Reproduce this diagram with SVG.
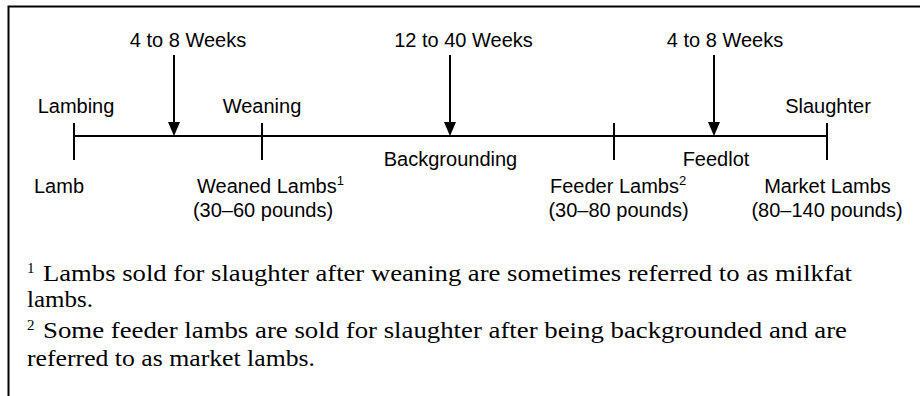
<svg xmlns="http://www.w3.org/2000/svg" width="920" height="396" viewBox="0 0 920 396">
  <style>
    .lbl { font-family: "Liberation Sans", Arial, sans-serif; font-size: 20px; fill: #000; }
    .mid { text-anchor: middle; }
    .sup { font-size: 13px; }
    .note { font-family: "Liberation Serif", "Times New Roman", serif; font-size: 23px; fill: #000; }
    .nsup { font-size: 15px; }
    .ln { stroke: #000; stroke-width: 2; fill: none; }
    .shaft { stroke: #000; stroke-width: 2; }
    .head { fill: #000; }
  </style>
  <rect x="0" y="0" width="920" height="396" fill="#fff"/>
  <path class="ln" d="M8.5,396 V6.5 H920"/>

  <g id="connectors">
    <line class="ln" x1="74" y1="136" x2="827" y2="136"/>
    <line class="ln" x1="74" y1="123" x2="74" y2="160"/>
    <line class="ln" x1="262" y1="123" x2="262" y2="160"/>
    <line class="ln" x1="614" y1="123" x2="614" y2="160"/>
    <line class="ln" x1="827" y1="123" x2="827" y2="160"/>
    <path class="shaft" d="M174,55 V124"/>
    <path class="head" d="M168,122 L180,122 L174,136 Z"/>
    <path class="shaft" d="M450,55 V124"/>
    <path class="head" d="M444,122 L456,122 L450,136 Z"/>
    <path class="shaft" d="M714,55 V124"/>
    <path class="head" d="M708,122 L720,122 L714,136 Z"/>
  </g>

  <g id="period-1"><text class="lbl mid" x="188" y="47">4 to 8 Weeks</text></g>
  <g id="period-2"><text class="lbl mid" x="463.5" y="47">12 to 40 Weeks</text></g>
  <g id="period-3"><text class="lbl mid" x="725" y="47">4 to 8 Weeks</text></g>

  <g id="lambing">
    <text class="lbl mid" x="76" y="113">Lambing</text>
    <text class="lbl mid" x="59" y="193">Lamb</text>
  </g>
  <g id="weaning">
    <text class="lbl mid" x="262" y="113">Weaning</text>
    <text class="lbl" x="197" y="193">Weaned Lambs<tspan class="sup" dy="-8">1</tspan></text>
    <text class="lbl mid" x="263" y="217">(30–60 pounds)</text>
  </g>
  <g id="backgrounding"><text class="lbl mid" x="450.5" y="166">Backgrounding</text></g>
  <g id="feeder">
    <text class="lbl" x="550" y="193">Feeder Lambs<tspan class="sup" dy="-8">2</tspan></text>
    <text class="lbl mid" x="618.5" y="217">(30–80 pounds)</text>
  </g>
  <g id="feedlot"><text class="lbl mid" x="716" y="166">Feedlot</text></g>
  <g id="slaughter">
    <text class="lbl mid" x="828" y="113">Slaughter</text>
    <text class="lbl mid" x="827.5" y="193">Market Lambs</text>
    <text class="lbl mid" x="827" y="217">(80–140 pounds)</text>
  </g>

  <g id="footnotes">
    <text class="note nsup" x="27" y="273">1</text>
    <text class="note" x="43" y="281" textLength="809" lengthAdjust="spacingAndGlyphs">Lambs sold for slaughter after weaning are sometimes referred to as milkfat</text>
    <text class="note" x="27" y="307" textLength="66" lengthAdjust="spacingAndGlyphs">lambs.</text>
    <text class="note nsup" x="27" y="330">2</text>
    <text class="note" x="43" y="338" textLength="804" lengthAdjust="spacingAndGlyphs">Some feeder lambs are sold for slaughter after being backgrounded and are</text>
    <text class="note" x="27" y="366" textLength="288" lengthAdjust="spacingAndGlyphs">referred to as market lambs.</text>
  </g>
</svg>
